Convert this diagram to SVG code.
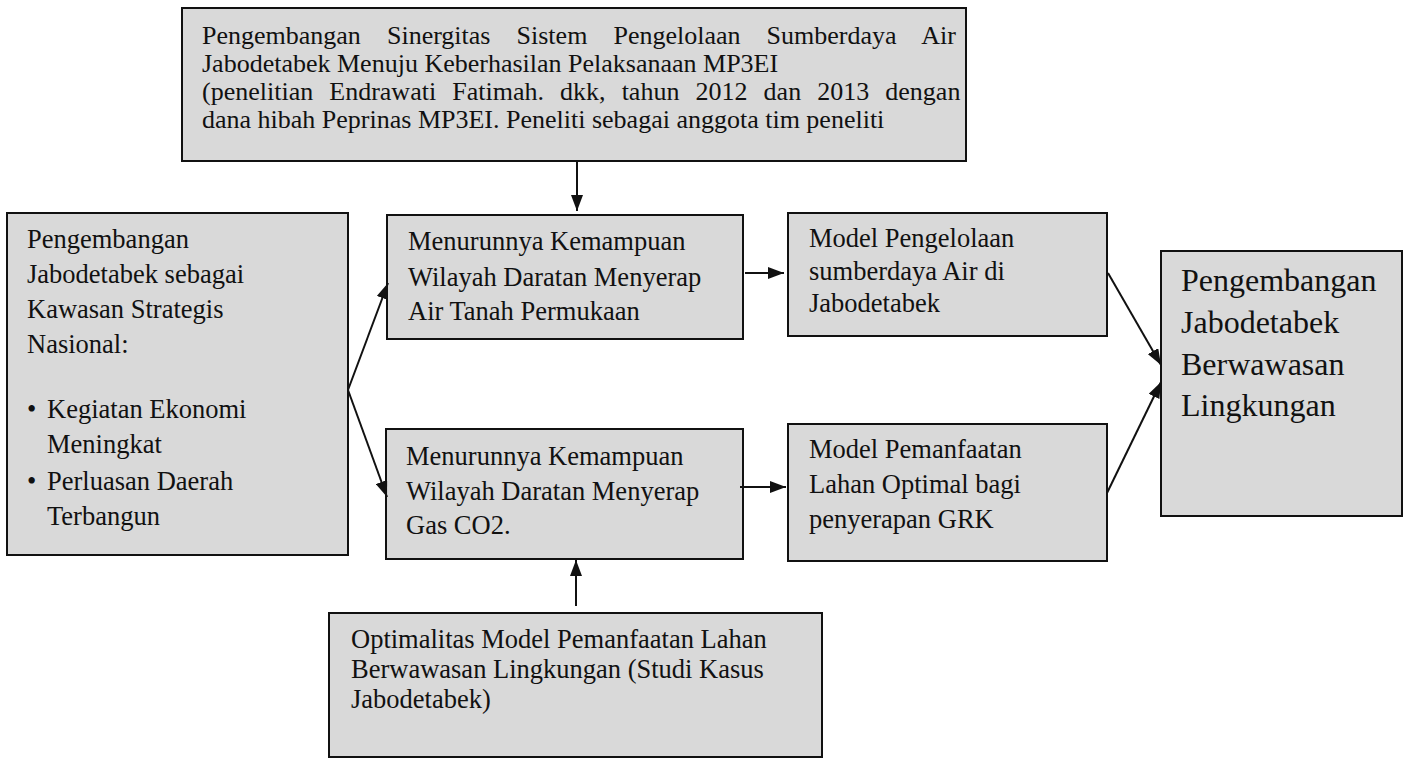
<svg xmlns="http://www.w3.org/2000/svg" width="1408" height="760" viewBox="0 0 1408 760">
<style>
.box{fill:#d9d9d9;stroke:#111;stroke-width:2}
.t{font-family:"Liberation Serif","Times New Roman",serif;font-size:26.5px;fill:#111}
.tt{font-size:26px}
.big{font-size:32px}
.c{stroke:#111;stroke-width:2;fill:none}
</style>
<defs>
<marker id="ah" viewBox="0 0 16 12" refX="16" refY="6" markerWidth="16" markerHeight="12" markerUnits="userSpaceOnUse" orient="auto">
<path d="M0,0 L16,6 L0,12 Z" fill="#111"/>
</marker>
</defs>
<rect width="1408" height="760" fill="#fff"/>
<g id="top">
<rect class="box" x="182" y="8" width="784" height="153"/>
<text class="t tt" x="202" y="44" word-spacing="19.6">Pengembangan Sinergitas Sistem Pengelolaan Sumberdaya Air</text>
<text class="t tt" x="202" y="72">Jabodetabek Menuju Keberhasilan Pelaksanaan MP3EI</text>
<text class="t tt" x="202" y="100" word-spacing="9.6">(penelitian Endrawati Fatimah. dkk, tahun 2012 dan 2013 dengan</text>
<text class="t tt" x="202" y="128">dana hibah Peprinas MP3EI. Peneliti sebagai anggota tim peneliti</text>
</g>
<g id="left">
<rect class="box" x="7" y="213" width="341" height="342"/>
<text class="t" x="27" y="248">Pengembangan</text>
<text class="t" x="27" y="283">Jabodetabek sebagai</text>
<text class="t" x="27" y="318">Kawasan Strategis</text>
<text class="t" x="27" y="353">Nasional:</text>
<text class="t" x="27" y="418">•</text>
<text class="t" x="47" y="418">Kegiatan Ekonomi</text>
<text class="t" x="47" y="453">Meningkat</text>
<text class="t" x="27" y="490">•</text>
<text class="t" x="47" y="490">Perluasan Daerah</text>
<text class="t" x="47" y="525">Terbangun</text>
</g>
<g id="m1">
<rect class="box" x="387" y="215" width="356" height="124"/>
<text class="t" x="408" y="250">Menurunnya Kemampuan</text>
<text class="t" x="408" y="286">Wilayah Daratan Menyerap</text>
<text class="t" x="408" y="320">Air Tanah Permukaan</text>
</g>
<g id="m2">
<rect class="box" x="386" y="429" width="357" height="130"/>
<text class="t" x="406" y="465">Menurunnya Kemampuan</text>
<text class="t" x="406" y="500">Wilayah Daratan Menyerap</text>
<text class="t" x="406" y="534">Gas CO2.</text>
</g>
<g id="r1">
<rect class="box" x="788" y="213" width="319" height="123"/>
<text class="t" x="809" y="247">Model Pengelolaan</text>
<text class="t" x="809" y="280">sumberdaya Air di</text>
<text class="t" x="809" y="312">Jabodetabek</text>
</g>
<g id="r2">
<rect class="box" x="788" y="424" width="319" height="137"/>
<text class="t" x="809" y="458">Model Pemanfaatan</text>
<text class="t" x="809" y="493">Lahan Optimal bagi</text>
<text class="t" x="809" y="528">penyerapan GRK</text>
</g>
<g id="final">
<rect class="box" x="1161" y="251" width="241" height="265"/>
<text class="t big" x="1181" y="291">Pengembangan</text>
<text class="t big" x="1181" y="333">Jabodetabek</text>
<text class="t big" x="1181" y="375">Berwawasan</text>
<text class="t big" x="1181" y="416">Lingkungan</text>
</g>
<g id="bottom">
<rect class="box" x="329" y="613" width="493" height="144"/>
<text class="t" x="351" y="648">Optimalitas Model Pemanfaatan Lahan</text>
<text class="t" x="351" y="678">Berwawasan Lingkungan (Studi Kasus</text>
<text class="t" x="351" y="708">Jabodetabek)</text>
</g>
<g id="connectors">
<line class="c" x1="577" y1="161" x2="577" y2="211" marker-end="url(#ah)"/>
<line class="c" x1="348" y1="390" x2="388" y2="283" marker-end="url(#ah)"/>
<line class="c" x1="348" y1="390" x2="387" y2="497" marker-end="url(#ah)"/>
<line class="c" x1="745" y1="273" x2="784" y2="273" marker-end="url(#ah)"/>
<line class="c" x1="740" y1="487" x2="786" y2="487" marker-end="url(#ah)"/>
<line class="c" x1="576" y1="606" x2="576" y2="560" marker-end="url(#ah)"/>
<line class="c" x1="1108" y1="273" x2="1161" y2="365" marker-end="url(#ah)"/>
<line class="c" x1="1107" y1="493" x2="1161" y2="382" marker-end="url(#ah)"/>
</g>
</svg>
